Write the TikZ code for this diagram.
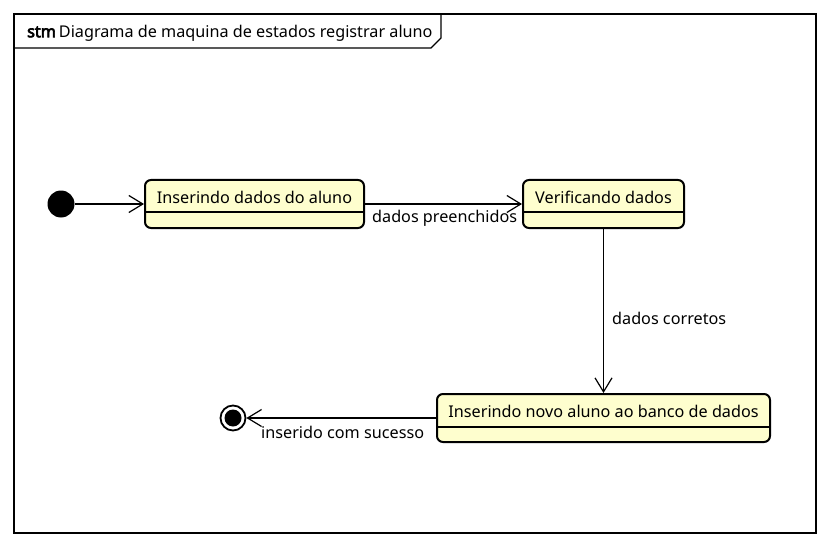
\documentclass[tikz,border=0pt]{standalone}
\usepackage{fontspec}
\setmainfont{Noto Sans}
\newfontfamily\boldish[FakeBold=4]{Noto Sans}
\usetikzlibrary{arrows.meta}
\definecolor{stfill}{HTML}{FEFECE}
\tikzset{
  stbox/.style={draw=black, fill=stfill, line width=2pt, rounded corners=6pt, minimum height=48pt, inner sep=0pt},
  sttext/.style={font=\fontsize{16.2}{18}\selectfont, inner sep=0pt},
  lbl/.style={font=\fontsize{16.2}{18}\selectfont, inner sep=0pt, anchor=west},
  arr/.style={draw=black, line width=1.2pt, -{Straight Barb[length=14pt,width=17pt,line width=1.2pt]}},
}
\begin{document}
\begin{tikzpicture}[x=1pt,y=-1pt]
\useasboundingbox (0,0) rectangle (829,548);
% frame
\draw[line width=1.2pt] (14,14) rectangle (816,533);
\draw[line width=1.2pt] (14,48) -- (431,48) -- (441,38) -- (441,14);
\node[inner sep=0pt, anchor=west, font=\fontsize{16.2}{18}\selectfont] (title) at (27,33) {{\boldish stm}\hspace{3pt}Diagrama de maquina de estados registrar aluno};
% initial
\node[circle, fill=black, minimum size=27pt, inner sep=0pt] (init) at (61,204) {};
% states
\node[stbox, minimum width=219pt] (s1) at (254.5,204) {};
\node[sttext] (t1) at (254.5,197) {Inserindo dados do aluno};
\draw[line width=1.2pt] (s1.west |- 0,212) -- (s1.east |- 0,212);
\node[stbox, minimum width=161pt] (s2) at (603.5,204) {};
\node[sttext] (t2) at (603.5,197) {Verificando dados};
\draw[line width=1.2pt] (s2.west |- 0,212) -- (s2.east |- 0,212);
\node[stbox, minimum width=333pt] (s3) at (603.5,418) {};
\node[sttext] (t3) at (603.5,411) {Inserindo novo aluno ao banco de dados};
\draw[line width=1.2pt] (s3.west |- 0,427) -- (s3.east |- 0,427);
% final
\node[circle, draw=black, fill=white, line width=1.8pt, minimum size=25pt, inner sep=0pt] (fin) at (233,418) {};
\node[circle, fill=black, minimum size=17pt, inner sep=0pt] (finin) at (233,418) {};
% edges
\draw[arr] (init) -- (s1);
\draw[arr] (s1) -- (s2);
\draw[arr] (s2) -- (s3);
\draw[arr] (s3) -- (fin);
% labels
\node[lbl] (l1) at (372,218) {dados preenchidos};
\node[lbl] (l2) at (612,318) {dados corretos};
\node[lbl] (l3) at (261,432) {inserido com sucesso};
\end{tikzpicture}
\end{document}
